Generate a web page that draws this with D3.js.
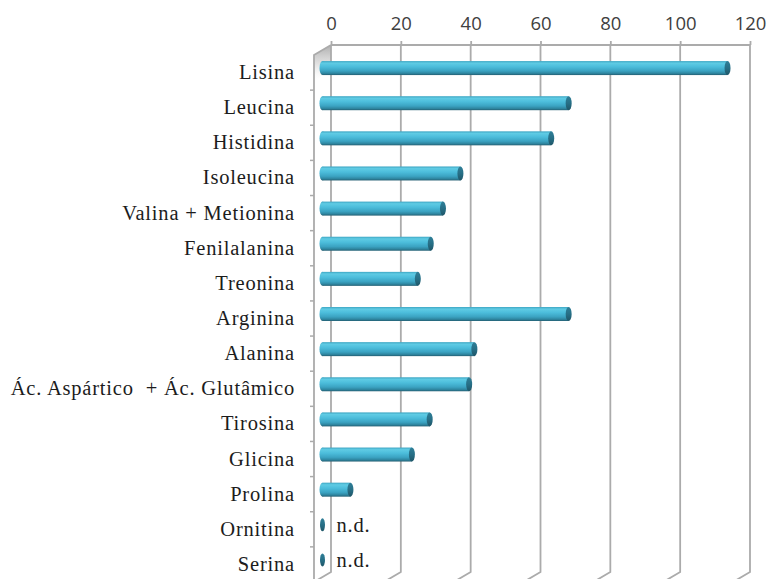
<!DOCTYPE html>
<html>
<head>
<meta charset="utf-8">
<script src="https://cdn.jsdelivr.net/npm/d3@7"></script>
<style>
  html, body { margin: 0; padding: 0; background: #fff; }
  svg { display: block; }
  .cat { font-family: "Liberation Serif", "Times New Roman", serif; font-size: 20.5px; fill: #1c1c1c; letter-spacing: 0.8px; white-space: pre; }
  .nd { font-family: "Liberation Serif", "Times New Roman", serif; font-size: 20.5px; fill: #1c1c1c; letter-spacing: 0.8px; }
  .axis text { font-family: "Open Sans", sans-serif; font-size: 18.5px; fill: #404040; }
</style>
</head>
<body>
<script>
// Amino acid values (n.d. = not detected)
const categories = [
  "Lisina", "Leucina", "Histidina", "Isoleucina", "Valina + Metionina",
  "Fenilalanina", "Treonina", "Arginina", "Alanina",
  "Ác. Aspártico  + Ác. Glutâmico", "Tirosina", "Glicina", "Prolina",
  "Ornitina", "Serina"
];
const values = [116, 70.5, 65.5, 39.5, 34.5, 31, 27.3, 70.5, 43.5, 42, 30.7, 25.6, 8, null, null];
const tickValues = [0, 20, 40, 60, 80, 100, 120];
const missingLabel = "n.d.";

const W = 770, H = 579;
const backTop = 45, backBottom = 572;
const depth = { dx: -17, dy: 10 };       // oblique offset from back wall to front edge
const mid = { dx: -8.5, dy: -4.5 };      // bars sit half-way in depth

const svg = d3.select("body").append("svg").attr("width", W).attr("height", H);

const x = d3.scaleLinear().domain([0, 120]).range([331, 750]);
const y = d3.scaleBand().domain(categories)
  .range([backTop + depth.dy, backBottom + depth.dy]).padding(0);

const defs = svg.append("defs");
const body = defs.append("linearGradient").attr("id", "barBody")
  .attr("x1", 0).attr("y1", 0).attr("x2", 0).attr("y2", 1);
[[0, "#3ea6c3"], [0.15, "#5fcbe4"], [0.4, "#4cbddb"], [0.7, "#3ba3c2"], [0.88, "#2e859f"], [1, "#245f73"]]
  .forEach(([o, c]) => body.append("stop").attr("offset", o).attr("stop-color", c));
const cap = defs.append("linearGradient").attr("id", "barCap")
  .attr("x1", 0).attr("y1", 0).attr("x2", 0).attr("y2", 1);
[[0, "#2f7f98"], [0.5, "#276f86"], [1, "#1f5668"]]
  .forEach(([o, c]) => cap.append("stop").attr("offset", o).attr("stop-color", c));
const wallShade = defs.append("linearGradient").attr("id", "wallShade")
  .attr("x1", 0).attr("y1", 0).attr("x2", 0).attr("y2", 1);
[[0, "#9a9a9a", 0.8], [0.5, "#c4c4c4", 0.5], [1, "#ffffff", 0]]
  .forEach(([o, c, a]) => wallShade.append("stop").attr("offset", o).attr("stop-color", c).attr("stop-opacity", a));

const gridColor = "#ababab";

// Left wall
const x0 = x(0);
svg.append("polygon")
  .attr("points", [[x0, backTop], [x0 + depth.dx, backTop + depth.dy], [x0 + depth.dx, backTop + depth.dy + 28], [x0, backTop + 22]].join(" "))
  .attr("fill", "url(#wallShade)");
svg.append("path")
  .attr("d", `M${x0},${backTop}L${x0 + depth.dx},${backTop + depth.dy}L${x0 + depth.dx},${backBottom + depth.dy}`)
  .attr("fill", "none").attr("stroke", gridColor).attr("stroke-width", 1.8);
// category tick marks on the wall's front edge
const bounds = categories.map(c => y(c)).concat([y.range()[1]]);
svg.append("g").selectAll("line").data(bounds.slice(1, -1)).join("line")
  .attr("x1", x0 + depth.dx - 4).attr("x2", x0 + depth.dx)
  .attr("y1", d => d).attr("y2", d => d)
  .attr("stroke", gridColor).attr("stroke-width", 1.5);

// Back wall gridlines running down and onto the floor
svg.append("g").selectAll("path").data(tickValues).join("path")
  .attr("d", t => `M${x(t)},${backTop}L${x(t)},${backBottom}L${x(t) + depth.dx},${backBottom + depth.dy}`)
  .attr("fill", "none").attr("stroke", gridColor).attr("stroke-width", 1.8);
svg.append("line")
  .attr("x1", x(0)).attr("x2", x(120)).attr("y1", backTop).attr("y2", backTop)
  .attr("stroke", gridColor).attr("stroke-width", 1.8);

// Value axis on top
const axis = svg.append("g").attr("class", "axis")
  .attr("transform", `translate(0,${backTop})`)
  .call(d3.axisTop(x).tickValues(tickValues).tickSize(4).tickSizeOuter(0).tickPadding(11));
axis.select(".domain").remove();
axis.selectAll(".tick line").attr("stroke", gridColor).attr("stroke-width", 1.8);

// Category labels
svg.append("g").selectAll("text").data(categories).join("text")
  .attr("class", "cat")
  .attr("x", 295)
  .attr("y", c => y(c) + y.bandwidth() / 2 + 6.5)
  .attr("text-anchor", "end")
  .text(c => c);

// Cylinder bars
const ry = 7, rx = 3;
const rows = categories.map((c, i) => ({ c, v: values[i] }));
const bars = svg.append("g").selectAll("g").data(rows).join("g")
  .attr("transform", d => `translate(${mid.dx},${y(d.c) + y.bandwidth() / 2 + mid.dy})`);

bars.filter(d => d.v != null).each(function (d) {
  const g = d3.select(this);
  const a = x(0), b = x(d.v);
  g.append("ellipse").attr("cx", a).attr("cy", 0).attr("rx", rx).attr("ry", ry).attr("fill", "url(#barBody)");
  g.append("rect").attr("x", a).attr("y", -ry).attr("width", b - a).attr("height", 2 * ry).attr("fill", "url(#barBody)");
  g.append("ellipse").attr("cx", b).attr("cy", 0).attr("rx", rx).attr("ry", ry).attr("fill", "url(#barCap)");
});

bars.filter(d => d.v == null).each(function () {
  const g = d3.select(this);
  g.append("ellipse").attr("cx", x(0)).attr("cy", 0).attr("rx", 2.5).attr("ry", 6.5).attr("fill", "url(#barCap)");
  g.append("text").attr("class", "nd").attr("x", x(0) + 14).attr("y", 7).text(missingLabel);
});
</script>
</body>
</html>
